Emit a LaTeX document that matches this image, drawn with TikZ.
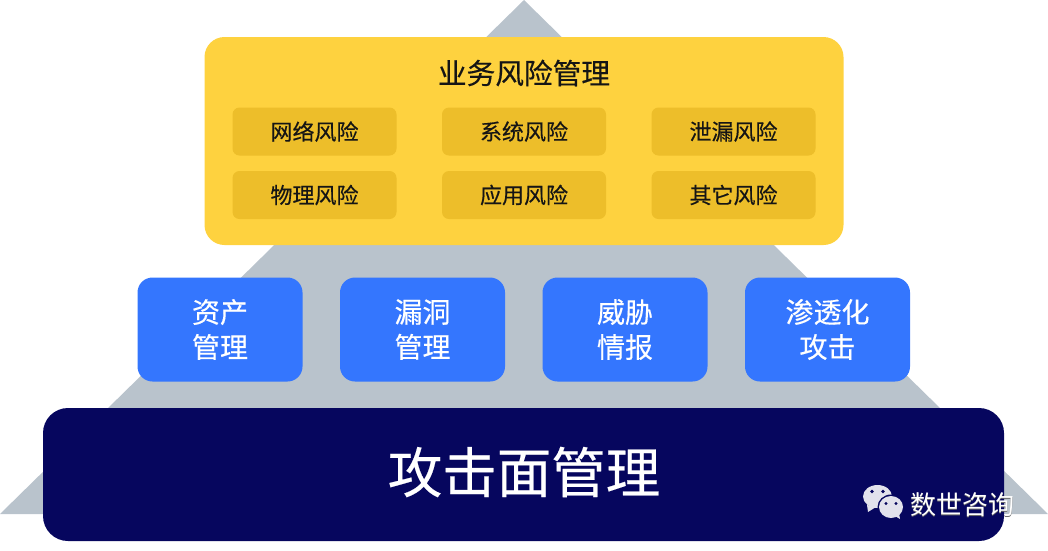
\documentclass[tikz,border=0pt]{standalone}
\usepackage{fontspec}
\setmainfont[FakeBold=0.35]{Noto Sans CJK SC}
\newfontfamily\wmfont{Noto Sans CJK SC}
\definecolor{tri}{HTML}{B9C3CC}
\definecolor{navy}{HTML}{06065E}
\definecolor{blu}{HTML}{3476FE}
\definecolor{yel}{HTML}{FED23F}
\definecolor{yeld}{HTML}{EDBE2A}
\definecolor{ink}{HTML}{151515}
\definecolor{wc}{HTML}{E2E2EC}
\newcommand{\fs}[2]{\fontsize{#1}{#2}\selectfont}
\tikzset{
  box/.style={rounded corners=#1,inner sep=0pt,outer sep=0pt,anchor=north west,align=center},
  risk/.style={box=7pt,fill=yeld,text=ink,minimum width=164pt,minimum height=48pt,font=\fs{22}{26}},
  bluebox/.style={box=15pt,fill=blu,text=white,minimum width=165pt,minimum height=104pt,font=\fs{28}{35}},
}
\begin{document}
\begin{tikzpicture}[x=1pt,y=-1pt]
\useasboundingbox (0,0) rectangle (1048,550);
\fill[tri] (524,0) -- (1048,514) -- (0,514) -- cycle;
\node[box=25pt,fill=navy,minimum width=961pt,minimum height=133pt] (base) at (43,408) {};
\node[text=white,font=\fs{54.5}{66},inner sep=0pt] (basetext) at (524,472) {攻击面管理};
\node[box=20pt,fill=yel,minimum width=639pt,minimum height=208pt] (top) at (204.5,37) {};
\node[text=ink,font=\fs{28.7}{34},inner sep=0pt] (title) at (524,73) {业务风险管理};
\node[risk] (r1) at (232.5,107.5) {\raisebox{-1pt}{网络风险}};
\node[risk] (r2) at (442,107.5) {\raisebox{-1pt}{系统风险}};
\node[risk] (r3) at (651.5,107.5) {\raisebox{-1pt}{泄漏风险}};
\node[risk] (r4) at (232.5,171) {\raisebox{-1pt}{物理风险}};
\node[risk] (r5) at (442,171) {\raisebox{-1pt}{应用风险}};
\node[risk] (r6) at (651.5,171) {\raisebox{-1pt}{其它风险}};
\node[bluebox] (b1) at (137.5,277.5) {资产\\管理};
\node[bluebox] (b2) at (340,277.5) {漏洞\\管理};
\node[bluebox] (b3) at (542.5,277.5) {威胁\\情报};
\node[bluebox] (b4) at (745,277.5) {渗透化\\攻击};
\draw[draw=none] (b1.north west);
% watermark
\fill[wc] (867,505) -- (868,512) -- (876,507) -- cycle;
\fill[wc] (877.5,496.5) ellipse (14.5pt and 11.5pt);
\fill[navy] (872,491.5) circle (1.8pt) (883,491.5) circle (1.8pt);
\fill[navy] (891,507) ellipse (13.5pt and 12.5pt);
\fill[wc] (891,507) ellipse (12pt and 11pt);
\fill[wc] (895,516) -- (900,519) -- (899,513) -- cycle;
\fill[navy] (886,503.5) circle (1.6pt) (896,503.5) circle (1.6pt);
\node[text=black!60,font=\wmfont\fs{26}{30},inner sep=0pt] (wmshadow) at (962.8,505.8) {数世咨询};
\node[text=white,font=\wmfont\fs{26}{30},inner sep=0pt] (wm) at (962,505) {数世咨询};
\end{tikzpicture}
\end{document}
